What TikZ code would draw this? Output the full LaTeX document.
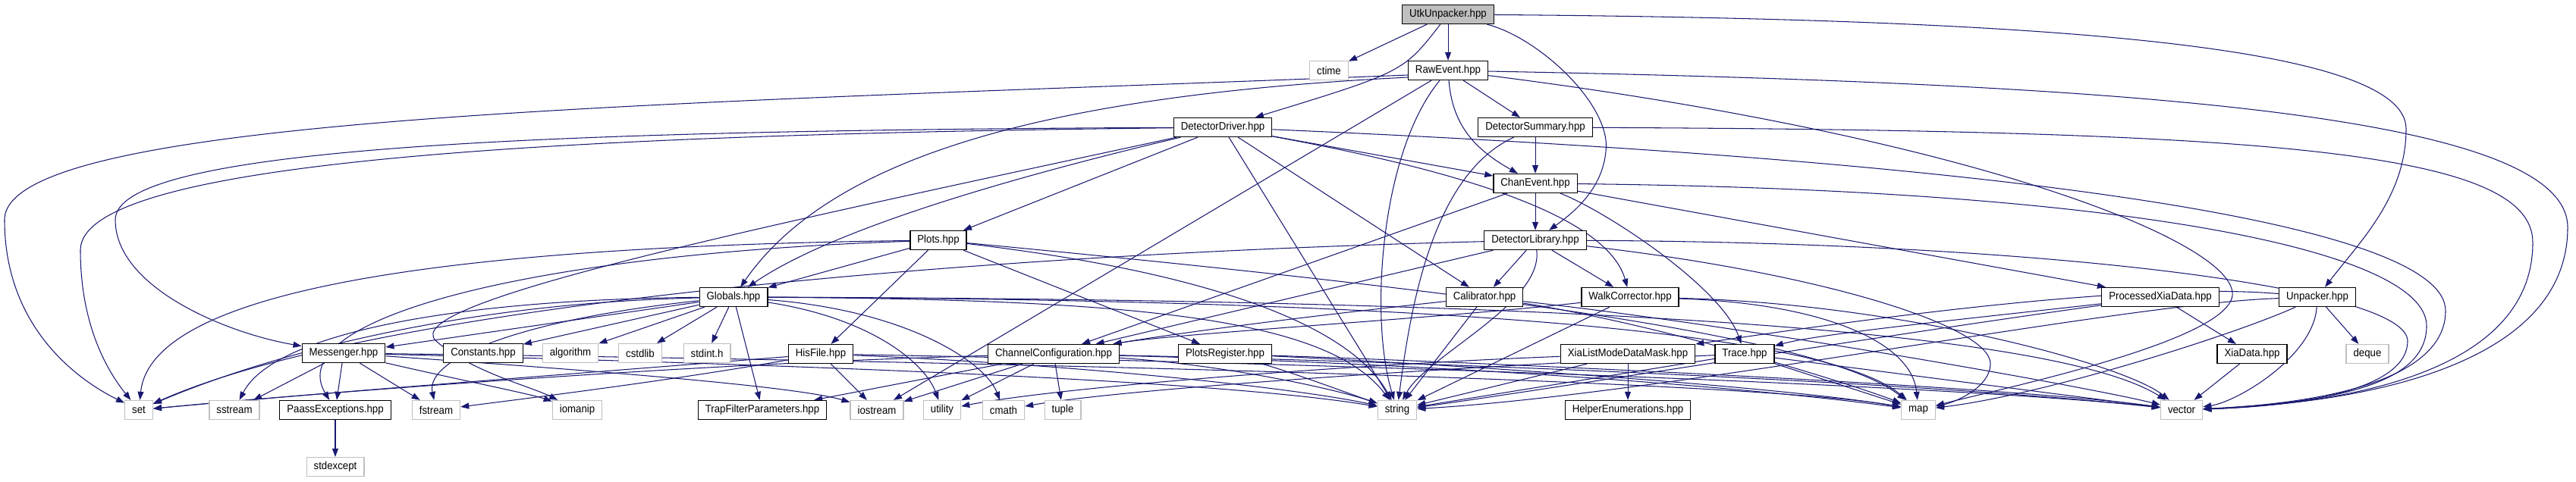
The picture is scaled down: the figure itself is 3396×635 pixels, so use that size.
\documentclass[tikz,border=0pt]{standalone}
\usepackage{fontspec}
\setmainfont{Liberation Sans}[FakeStretch=0.92]
\usetikzlibrary{arrows.meta}
\definecolor{edgec}{RGB}{25,25,112}
\definecolor{sysc}{RGB}{191,191,191}
\pgfdeclarelayer{bg}
\pgfsetlayers{bg,main}
\begin{document}
\begin{tikzpicture}[x=1pt,y=-1pt,
  hdr/.style={draw=black, line width=1.3pt, fill=white, minimum height=25pt, inner xsep=9.5pt, inner ysep=0pt, font=\fontsize{14.4}{16}\selectfont},
  sys/.style={hdr, draw=sysc},
  root/.style={hdr, fill=sysc},
  e/.style={draw=edgec, line width=1.05pt, -{Triangle[length=11pt,width=8pt]}}]
\useasboundingbox (0,0) rectangle (3396,635);
% nodes
\node[root] (utk) at (1909,19) {UtkUnpacker.hpp};
\node[sys] (ctime) at (1752,93) {ctime};
\node[hdr] (raw) at (1909,93) {RawEvent.hpp};
\node[hdr] (dd) at (1612,168) {DetectorDriver.hpp};
\node[hdr] (ds) at (2024,168) {DetectorSummary.hpp};
\node[hdr] (ce) at (2024,242) {ChanEvent.hpp};
\node[hdr] (dl) at (2024,317) {DetectorLibrary.hpp};
\node[hdr] (plots) at (1237,317) {Plots.hpp};
\node[hdr] (glob) at (967,392) {Globals.hpp};
\node[hdr] (cal) at (1957,392) {Calibrator.hpp};
\node[hdr] (wc) at (2149,392) {WalkCorrector.hpp};
\node[hdr] (pxd) at (2848,392) {ProcessedXiaData.hpp};
\node[hdr] (unp) at (3055,392) {Unpacker.hpp};
\node[hdr] (msg) at (453,466) {Messenger.hpp};
\node[hdr] (const) at (637,466) {Constants.hpp};
\node[sys] (algo) at (752,466) {algorithm};
\node[sys] (cstdlib) at (844,466) {cstdlib};
\node[sys] (stdint) at (932,466) {stdint.h};
\node[hdr] (his) at (1082,467) {HisFile.hpp};
\node[hdr] (cc) at (1389,467) {ChannelConfiguration.hpp};
\node[hdr] (pr) at (1615,467) {PlotsRegister.hpp};
\node[hdr] (xlm) at (2146,467) {XiaListModeDataMask.hpp};
\node[hdr] (trace) at (2300,467) {Trace.hpp};
\node[hdr] (xd) at (2969,467) {XiaData.hpp};
\node[sys] (deque) at (3121,467) {deque};
\node[sys] (set) at (183,541) {set};
\node[sys] (sstream) at (309,541) {sstream};
\node[hdr] (pex) at (442,541) {PaassExceptions.hpp};
\node[sys] (fstream) at (575,541) {fstream};
\node[sys] (iomanip) at (761,541) {iomanip};
\node[hdr] (tfp) at (1005,541) {TrapFilterParameters.hpp};
\node[sys] (iostream) at (1156,541) {iostream};
\node[sys] (utility) at (1242,541) {utility};
\node[sys] (cmath) at (1323,541) {cmath};
\node[sys] (tuple) at (1401,541) {tuple};
\node[sys] (string) at (1842,541) {string};
\node[hdr] (he) at (2146,541) {HelperEnumerations.hpp};
\node[sys] (map) at (2529,541) {map};
\node[sys] (vector) at (2876,541) {vector};
\node[sys] (stdexcept) at (442,616) {stdexcept};
% edges
\begin{pgfonlayer}{bg}
% UtkUnpacker
\path[e] (utk) -- (ctime);
\path[e] (utk) -- (raw);
\path[e] (utk) .. controls (1850,95) .. (dd);
\path[e] (utk) .. controls (2030,50) and (2125,140) .. (2117,200) .. controls (2112,250) and (2075,280) .. (dl);
\path[e] (utk) .. controls (2700,25) and (3172,60) .. (3172,170) .. controls (3172,260) and (3110,320) .. (unp);
% RawEvent
\path[e] (raw) -- (ds);
\path[e] (raw) .. controls (1915,170) and (1950,200) .. (ce);
\path[e] (raw.west) ++(0,6) .. controls (900,137) and (6,150) .. (6,290) .. controls (6,430) and (100,500) .. (set);
\path[e] (raw.west) ++(0,9) .. controls (1400,125) and (1100,200) .. (glob);
\path[e] (raw) -- (iostream);
\path[e] (raw) .. controls (1820,200) and (1805,420) .. (string);
\path[e] (raw) .. controls (2600,180) and (2950,320) .. (2943,390) .. controls (2935,450) and (2650,510) .. (map);
\path[e] (raw) .. controls (2800,110) and (3385,150) .. (3385,300) .. controls (3385,470) and (3150,530) .. (vector);
% DetectorSummary
\path[e] (ds) -- (ce);
\path[e] (ds) .. controls (1890,230) and (1860,400) .. (string);
\path[e] (ds) .. controls (3000,172) and (3339,200) .. (3339,320) .. controls (3339,470) and (3150,530) .. (vector);
% DetectorDriver
\path[e] (dd) -- (ce);
\path[e] (dd) -- (cal);
\path[e] (dd) .. controls (1950,230) and (2120,290) .. (wc);
\path[e] (dd) -- (plots);
\path[e] (dd) .. controls (1350,230) and (1100,300) .. (glob);
\path[e] (dd) .. controls (700,172) and (152,195) .. (152,290) .. controls (152,380) and (300,440) .. (msg);
\path[e] (dd) .. controls (700,178) and (106,215) .. (106,330) .. controls (106,440) and (150,500) .. (set);
\path[e] (dd) .. controls (1000,300) and (520,400) .. (575,450) .. controls (620,490) and (700,510) .. (iomanip);
\path[e] (dd) -- (string);
\path[e] (dd) .. controls (2700,215) and (3224,300) .. (3224,410) .. controls (3224,490) and (3100,530) .. (vector);
% ChanEvent
\path[e] (ce) -- (dl);
\path[e] (ce) -- (cc);
\path[e] (ce) .. controls (2120,280) and (2270,380) .. (trace);
\path[e] (ce) -- (pxd);
\path[e] (ce) .. controls (2800,250) and (3199,330) .. (3199,430) .. controls (3199,500) and (3100,530) .. (vector);
% DetectorLibrary
\path[e] (dl) -- (cal);
\path[e] (dl) -- (wc);
\path[e] (dl) -- (cc);
\path[e] (dl) .. controls (1300,335) and (500,400) .. (set);
\path[e] (dl) .. controls (2035,400) and (1880,470) .. (string);
\path[e] (dl) .. controls (2400,360) and (2624,430) .. (2624,480) .. controls (2624,510) and (2580,530) .. (map);
\path[e] (dl) .. controls (2700,320) and (3174,380) .. (3174,450) .. controls (3174,510) and (3050,535) .. (vector);
% Plots
\path[e] (plots) -- (glob);
\path[e] (plots) -- (his);
\path[e] (plots) -- (pr);
\path[e] (plots) .. controls (600,325) and (200,380) .. (set);
\path[e] (plots) .. controls (700,335) and (370,420) .. (pex);
\path[e] (plots) .. controls (1600,360) and (1780,430) .. (string);
\path[e] (plots) .. controls (1900,380) and (2400,440) .. (map);
% Globals
\path[e] (glob) -- (msg);
\path[e] (glob) -- (const);
\path[e] (glob) -- (algo);
\path[e] (glob) -- (cstdlib);
\path[e] (glob) -- (stdint);
\path[e] (glob) -- (tfp);
\path[e] (glob) .. controls (600,400) and (350,470) .. (set);
\path[e] (glob) .. controls (600,395) and (360,440) .. (sstream);
\path[e] (glob) .. controls (700,420) and (560,470) .. (fstream);
\path[e] (glob) .. controls (1150,420) and (1220,480) .. (utility);
\path[e] (glob) .. controls (1200,410) and (1300,480) .. (cmath);
\path[e] (glob) .. controls (1500,395) and (1750,420) .. (string);
\path[e] (glob) .. controls (1800,395) and (2400,430) .. (map);
\path[e] (glob) .. controls (2000,395) and (2700,430) .. (vector);
% Messenger
\path[e] (msg) -- (sstream);
\path[e] (msg) -- (pex);
\path[e] (msg) -- (fstream);
\path[e] (msg) .. controls (600,500) and (700,520) .. (iomanip);
\path[e] (msg) .. controls (800,490) and (1050,510) .. (iostream);
\path[e] (msg) .. controls (1000,480) and (1600,500) .. (string);
\path[e] (msg) .. controls (1200,475) and (2300,500) .. (map);
% PaassExceptions
\path[e] (pex) -- (stdexcept);
% HisFile
\path[e] (his) .. controls (800,490) and (400,520) .. (set);
\path[e] (his) .. controls (900,500) and (700,525) .. (fstream);
\path[e] (his) -- (iostream);
\path[e] (his) .. controls (1400,480) and (1700,510) .. (string);
\path[e] (his) .. controls (1800,480) and (2600,510) .. (vector);
% ChannelConfiguration
\path[e] (cc) -- (tfp);
\path[e] (cc) -- (iostream);
\path[e] (cc) -- (utility);
\path[e] (cc) -- (tuple);
\path[e] (cc) .. controls (900,480) and (400,520) .. (set);
\path[e] (cc) .. controls (1600,480) and (1750,510) .. (string);
\path[e] (cc) .. controls (1900,480) and (2300,510) .. (map);
\path[e] (cc) .. controls (2000,480) and (2600,510) .. (vector);
% PlotsRegister
\path[e] (pr) .. controls (1700,490) and (1780,520) .. (string);
\path[e] (pr) .. controls (1900,480) and (2350,510) .. (map);
\path[e] (pr) .. controls (2000,480) and (2650,510) .. (vector);
% Calibrator
\path[e] (cal) .. controls (1700,420) and (1550,440) .. (cc);
\path[e] (cal) -- (string);
\path[e] (cal) .. controls (2200,430) and (2450,510) .. (map);
\path[e] (cal) .. controls (2300,430) and (2750,510) .. (vector);
% WalkCorrector
\path[e] (wc) .. controls (1900,420) and (1550,440) .. (cc);
\path[e] (wc) -- (string);
\path[e] (wc) .. controls (2400,400) and (2520,450) .. (map);
\path[e] (wc) .. controls (2500,400) and (2800,480) .. (vector);
% XiaListModeDataMask
\path[e] (xlm) -- (he);
\path[e] (xlm) -- (string);
\path[e] (xlm) .. controls (1800,480) and (1400,510) .. (utility);
% Trace
\path[e] (trace) .. controls (2000,480) and (1500,510) .. (cmath);
\path[e] (trace) -- (string);
\path[e] (trace) -- (map);
\path[e] (trace) -- (vector);
% ProcessedXiaData
\path[e] (pxd) -- (xd);
\path[e] (pxd) .. controls (2600,420) and (2400,440) .. (trace);
\path[e] (pxd) .. controls (2500,440) and (2000,520) .. (string);
% Unpacker
\path[e] (unp) .. controls (2800,370) and (2400,430) .. (xlm);
\path[e] (unp) .. controls (2800,400) and (2200,520) .. (string);
\path[e] (unp) .. controls (2950,440) and (2700,520) .. (map);
\path[e] (unp) .. controls (3050,470) and (2950,530) .. (vector);
\path[e] (unp) -- (deque);
% XiaData
\path[e] (xd) -- (vector);
\end{pgfonlayer}
\end{tikzpicture}
\end{document}
